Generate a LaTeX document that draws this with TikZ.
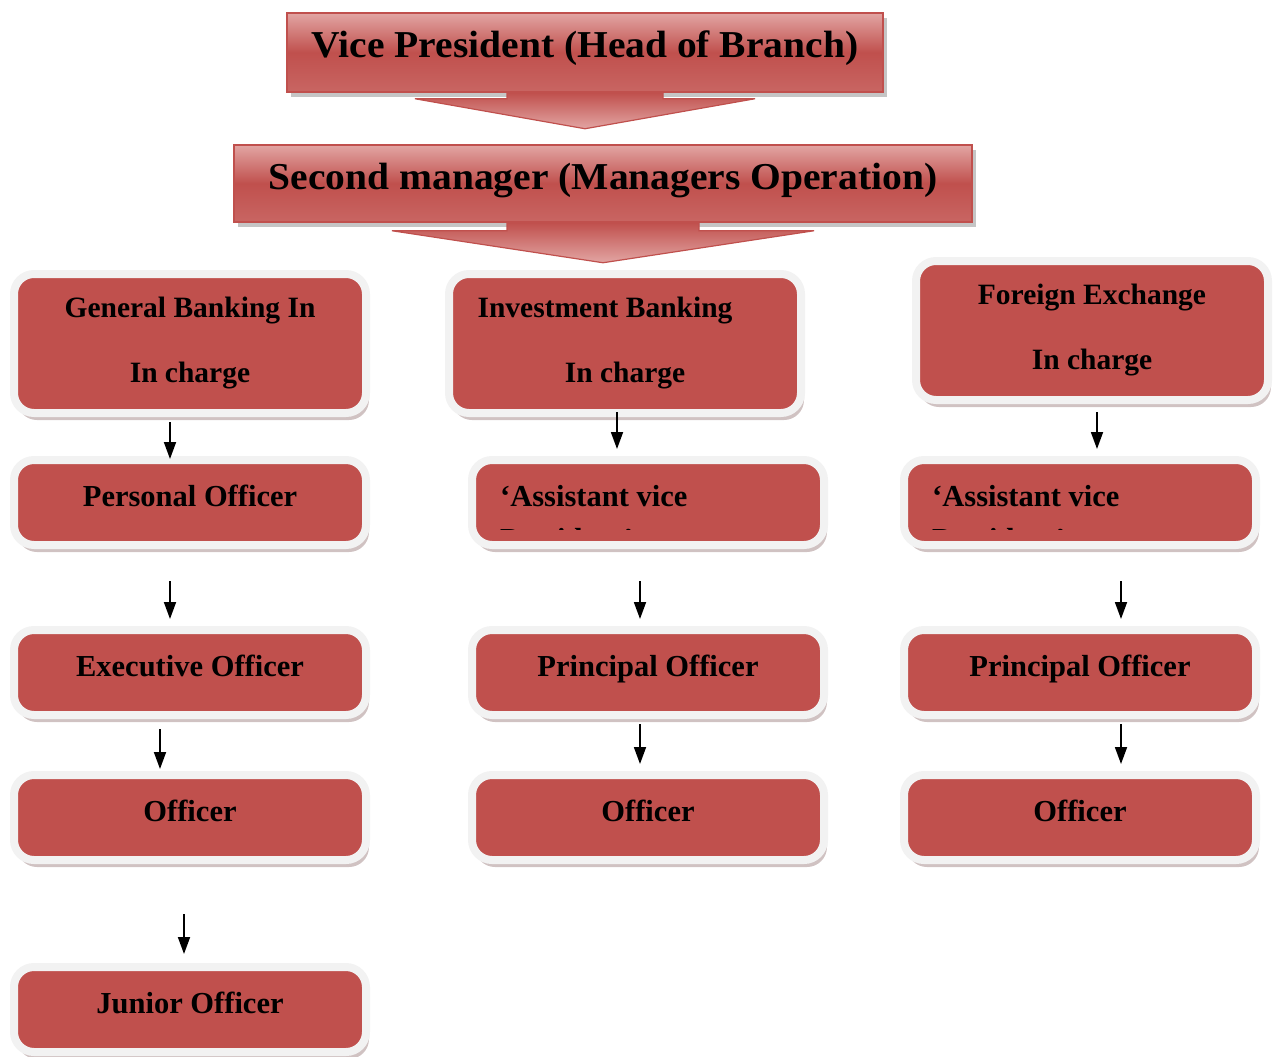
\documentclass[tikz,border=0pt]{standalone}
\usepackage{fontspec}
\setmainfont{Liberation Serif}
\newfontfamily\headfont[FakeStretch=1.04]{Liberation Serif}
\usetikzlibrary{positioning,arrows.meta,shadows,calc}
\definecolor{BoxRed}{RGB}{192,80,77}
\definecolor{BoxPink}{RGB}{226,165,163}
\definecolor{BoxRim}{RGB}{242,242,242}
\definecolor{ShadowRose}{RGB}{150,120,120}

\begin{document}
\begin{tikzpicture}[x=1pt, y=-1pt,
    headbox/.style={rectangle, draw=BoxRed, line width=1.5pt, top color=BoxPink, bottom color=BoxRed!75!BoxPink, middle color=BoxRed,
        font=\headfont\fontsize{38}{44}\selectfont\bfseries, text height=25pt, text depth=14pt,
        drop shadow={shadow xshift=4pt, shadow yshift=-5pt, fill=black!45, opacity=0.5}},
    headarrow/.style={draw=BoxRed, line width=1.2pt, top color=BoxRed, bottom color=BoxPink},
    unitbox/.style={rectangle, rounded corners=20pt, fill=BoxRed, draw=BoxRim, line width=8pt, minimum width=352pt,
        font=\fontsize{30.5}{36}\selectfont\bfseries,
        drop shadow={shadow xshift=3pt, shadow yshift=-7pt, fill=ShadowRose, opacity=0.45}},
    onebox/.style={unitbox, minimum height=85pt, text height=19pt, text depth=12pt},
    twobox/.style={unitbox, minimum height=139pt, align=center, font=\fontsize{29.5}{65}\selectfont\bfseries},
    arr/.style={-{Triangle[length=17pt, width=12pt]}, line width=1.8pt, black},
]
\useasboundingbox (0,0) rectangle (1283,1057);

% top of the branch
\node[headbox, minimum width=596pt, minimum height=79pt] (vp) at (585,52.5) {Vice President (Head of Branch)};
\path[headarrow] ($(vp.south)+(-78,0)$) -- ++(0,6) -- ++(-92,0) -- ++(170,30) -- ++(170,-30) -- ++(-92,0) -- ++(0,-6) -- cycle;

\node[headbox, minimum width=738pt, minimum height=77pt] (sm) at (603,183.5) {Second manager (Managers Operation)};
\path[headarrow] ($(sm.south)+(-96,0)$) -- ++(0,8) -- ++(-115,0) -- ++(211,32) -- ++(211,-32) -- ++(-115,0) -- ++(0,-8) -- cycle;

% departments
\node[twobox] (gb) at (190,343.5) {General Banking In\\In charge};
\node[twobox] (ib) at (625,343.5) {Investment Banking\hspace*{40pt}\\In charge};
\node[twobox] (fx) at (1092,330.5) {Foreign Exchange\\In charge};

% general banking column
\node[onebox] (po) at (190,502.5) {Personal Officer};
\node[onebox] (eo) at (190,672.5) {Executive Officer};
\node[onebox] (of1) at (190,817.5) {Officer};
\node[onebox] (jo) at (190,1009.5) {Junior Officer};

% investment banking column
\node[onebox] (av1) at (648,502.5) {};
\node[onebox] (pr1) at (648,672.5) {Principal Officer};
\node[onebox] (of2) at (648,817.5) {Officer};

% foreign exchange column
\node[onebox] (av2) at (1080,502.5) {};
\node[onebox] (pr2) at (1080,672.5) {Principal Officer};
\node[onebox] (of3) at (1080,817.5) {Officer};

% cut-off titles
\foreach \unit in {av1,av2} {
    \begin{scope}
        \clip ([xshift=8pt,yshift=-8pt]\unit.north west) rectangle ([xshift=-8pt,yshift=20pt]\unit.south east);
        \node[anchor=north west, inner sep=0pt, align=left, font=\fontsize{30.5}{43}\selectfont\bfseries]
            at ([xshift=32pt,yshift=-29.5pt]\unit.north west) {‘Assistant vice\\President’};
    \end{scope}
}

% arrows
\draw[arr] ([xshift=-20pt,yshift=-5pt]gb.south) -- ([xshift=-20pt,yshift=-3pt]po.north);
\draw[arr] ([xshift=-20pt,yshift=-32pt]po.south) -- ([xshift=-20pt,yshift=7pt]eo.north);
\draw[arr] ([xshift=-30pt,yshift=-10pt]eo.south) -- ([xshift=-30pt,yshift=2pt]of1.north);
\draw[arr] ([xshift=-6pt,yshift=-50pt]of1.south) -- ([xshift=-6pt,yshift=9pt]jo.north);

\draw[arr] ([xshift=-8pt,yshift=5pt]ib.south) -- ([xshift=-31pt,yshift=7pt]av1.north);
\draw[arr] ([xshift=-8pt,yshift=-32pt]av1.south) -- ([xshift=-8pt,yshift=7pt]pr1.north);
\draw[arr] ([xshift=-8pt,yshift=-5pt]pr1.south) -- ([xshift=-8pt,yshift=7pt]of2.north);

\draw[arr] ([xshift=5pt,yshift=-8pt]fx.south) -- ([xshift=17pt,yshift=7pt]av2.north);
\draw[arr] ([xshift=41pt,yshift=-32pt]av2.south) -- ([xshift=41pt,yshift=7pt]pr2.north);
\draw[arr] ([xshift=41pt,yshift=-5pt]pr2.south) -- ([xshift=41pt,yshift=7pt]of3.north);
\end{tikzpicture}
\end{document}
